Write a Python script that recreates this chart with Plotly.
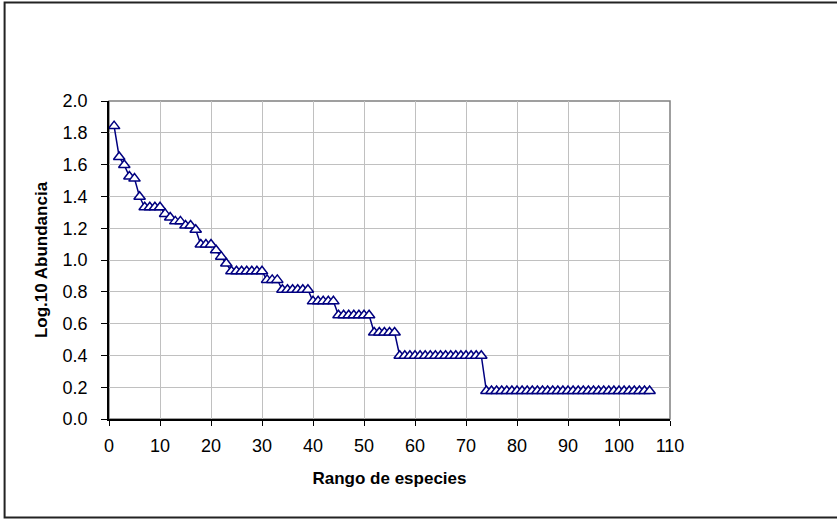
import plotly.graph_objects as go

# Species rank (x) and log10 abundance (y)
rank = list(range(1, 107))
log_abund = [
    1.842, 1.648, 1.597, 1.525, 1.512, 1.398,
    1.332, 1.332, 1.332, 1.332,
    1.290, 1.267, 1.243, 1.243, 1.217, 1.217, 1.190,
    1.097, 1.097, 1.097,
    1.061, 1.021, 0.978,
    0.929, 0.929, 0.929, 0.929, 0.929, 0.929, 0.929,
    0.875, 0.875, 0.875,
    0.813, 0.813, 0.813, 0.813, 0.813, 0.813,
    0.740, 0.740, 0.740, 0.740, 0.740,
    0.653, 0.653, 0.653, 0.653, 0.653, 0.653, 0.653,
    0.544, 0.544, 0.544, 0.544, 0.544,
    0.398, 0.398, 0.398, 0.398, 0.398, 0.398, 0.398, 0.398, 0.398,
    0.398, 0.398, 0.398, 0.398, 0.398, 0.398, 0.398, 0.398,
    0.176, 0.176, 0.176, 0.176, 0.176, 0.176, 0.176, 0.176, 0.176, 0.176, 0.176,
    0.176, 0.176, 0.176, 0.176, 0.176, 0.176, 0.176, 0.176, 0.176, 0.176, 0.176,
    0.176, 0.176, 0.176, 0.176, 0.176, 0.176, 0.176, 0.176, 0.176, 0.176, 0.176,
]

x_title = "Rango de especies"
y_title = "Log.10 Abundancia"

NAVY = "#000080"
FONT = "Arial, Liberation Sans, sans-serif"

fig = go.Figure()
fig.add_trace(go.Scatter(
    x=rank, y=log_abund, mode="lines+markers",
    line=dict(color=NAVY, width=1.5),
    marker=dict(symbol="triangle-up", size=10, color="white",
                line=dict(color=NAVY, width=1.5)),
    showlegend=False, hoverinfo="x+y",
))

W, H = 837, 521
L, R, T, B = 109, 670.5, 101, 419.3
pw, ph = R - L, B - T

def px_to_paper_x(px):
    return (px - L) / pw

def px_to_paper_y(py):
    return (B - py) / ph

fig.update_layout(
    width=W, height=H,
    margin=dict(l=L, r=W - R, t=T, b=H - B, pad=0),
    paper_bgcolor="white", plot_bgcolor="white",
    font=dict(family=FONT, color="black"),
    xaxis=dict(
        range=[0, 110], dtick=10, tick0=0,
        showgrid=True, gridcolor="#c0c0c0", gridwidth=1,
        showline=True, linecolor="black", linewidth=1.5,
        ticks="outside", ticklen=5, tickcolor="black", tickwidth=1,
        tickfont=dict(size=18, family=FONT, color="black"),
        ticklabelstandoff=5,
        zeroline=False,
        title=dict(text="<b>" + x_title + "</b>",
                   font=dict(size=17, family=FONT, color="black"),
                   standoff=17),
    ),
    yaxis=dict(
        range=[0, 2.0], dtick=0.2, tick0=0, tickformat=".1f",
        showgrid=True, gridcolor="#c0c0c0", gridwidth=1,
        showline=True, linecolor="black", linewidth=1.5,
        ticks="outside", ticklen=6, tickcolor="black", tickwidth=1,
        tickfont=dict(size=18, family=FONT, color="black"),
        ticklabelstandoff=10,
        zeroline=False,
        title=dict(text="<b>" + y_title + "</b>",
                   font=dict(size=17, family=FONT, color="black"),
                   standoff=11),
    ),
    shapes=[
        # plot area border (gray)
        dict(type="rect", xref="paper", yref="paper", x0=0, x1=1, y0=0, y1=1,
             line=dict(color="#808080", width=1.5), layer="below"),
        # outer chart frame
        dict(type="rect", xref="paper", yref="paper",
             x0=px_to_paper_x(4.5), x1=px_to_paper_x(845),
             y0=px_to_paper_y(518), y1=px_to_paper_y(2.5),
             line=dict(color="#222222", width=2), layer="above"),
    ],
)

fig.write_html("out.html")
